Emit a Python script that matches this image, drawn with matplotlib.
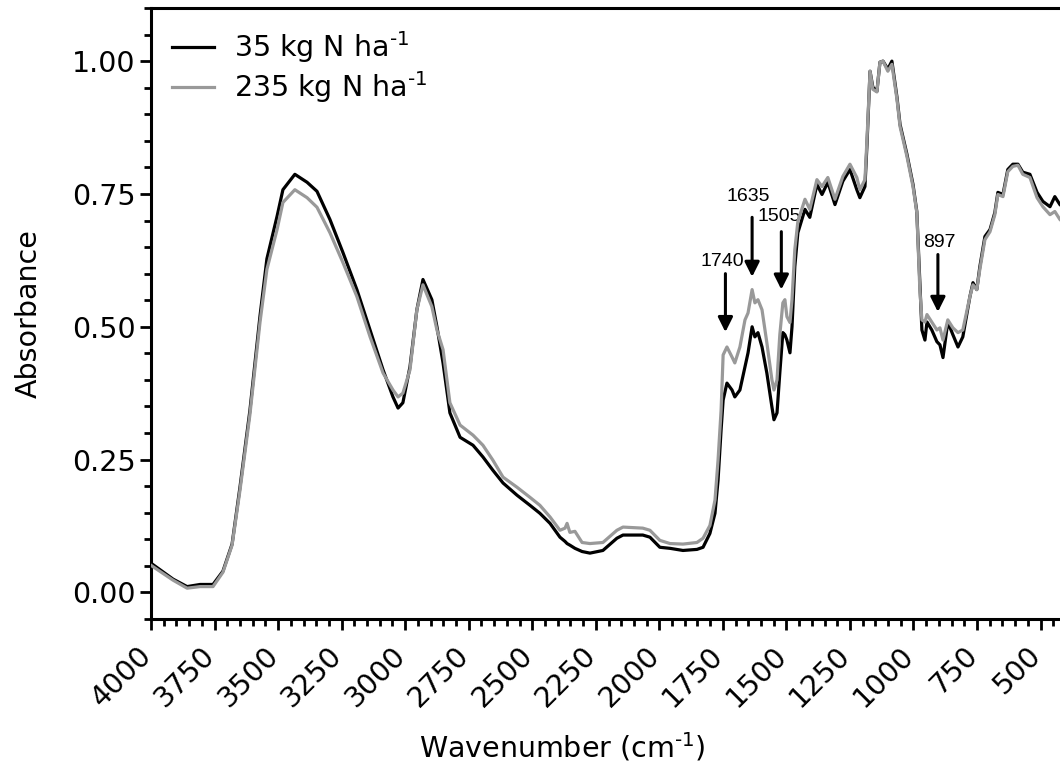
import numpy as np
import matplotlib
matplotlib.use('Agg')
import matplotlib.pyplot as plt
import matplotlib.transforms as mtransforms
from matplotlib.ticker import MultipleLocator, FormatStrFormatter

# Wavenumber grid (cm-1)
wavenumber = [4000, 3913, 3858, 3807, 3756, 3717, 3681, 3650, 3611, 3571, 3544, 3504,
              3481, 3434, 3386, 3347, 3296, 3245, 3190, 3138, 3087, 3048, 3028, 3009,
              2981, 2954, 2930, 2895, 2875, 2851, 2824, 2784, 2733, 2694, 2655, 2615,
              2560, 2509, 2470, 2430, 2391, 2371, 2363, 2352, 2332, 2304, 2273, 2222,
              2167, 2143, 2065, 2037, 1998, 1958, 1907, 1852, 1828, 1801, 1781, 1769,
              1757, 1749, 1734, 1714, 1703, 1683, 1663, 1651, 1635, 1624, 1612, 1596,
              1577, 1557, 1549, 1537, 1526, 1514, 1506, 1498, 1486, 1478, 1467, 1455,
              1427, 1408, 1380, 1360, 1337, 1309, 1278, 1250, 1223, 1211, 1191, 1183,
              1171, 1160, 1144, 1132, 1120, 1101, 1085, 1065, 1053, 1026, 1002, 987,
              975, 967, 955, 947, 928, 908, 896, 884, 865, 845, 825, 806, 778, 766,
              751, 739, 719, 699, 680, 668, 648, 629, 609, 589, 570, 542, 514, 491,
              463, 444, 424, 400]

# 35 kg N ha-1 (black)
abs_35 = [0.055, 0.025, 0.011, 0.015, 0.015, 0.040, 0.091, 0.198, 0.342, 0.521, 0.628, 0.708,
          0.758, 0.787, 0.772, 0.755, 0.702, 0.640, 0.570, 0.494, 0.419, 0.368, 0.347, 0.357,
          0.425, 0.532, 0.589, 0.551, 0.500, 0.432, 0.338, 0.292, 0.277, 0.255, 0.230, 0.206,
          0.183, 0.164, 0.149, 0.130, 0.104, 0.096, 0.092, 0.089, 0.083, 0.077, 0.074, 0.079,
          0.102, 0.108, 0.108, 0.104, 0.085, 0.083, 0.079, 0.081, 0.085, 0.111, 0.149, 0.211,
          0.306, 0.362, 0.394, 0.381, 0.368, 0.381, 0.425, 0.451, 0.500, 0.481, 0.489, 0.462,
          0.413, 0.349, 0.325, 0.338, 0.413, 0.489, 0.485, 0.475, 0.451, 0.500, 0.613, 0.677,
          0.721, 0.706, 0.768, 0.749, 0.772, 0.730, 0.774, 0.796, 0.758, 0.743, 0.764, 0.843,
          0.981, 0.951, 0.943, 0.998, 1.000, 0.985, 1.000, 0.932, 0.881, 0.825, 0.768, 0.717,
          0.583, 0.494, 0.475, 0.509, 0.494, 0.472, 0.466, 0.442, 0.509, 0.485, 0.462, 0.481,
          0.557, 0.583, 0.570, 0.613, 0.670, 0.683, 0.715, 0.753, 0.749, 0.796, 0.806, 0.806,
          0.791, 0.787, 0.753, 0.736, 0.726, 0.745, 0.730, 0.721]

# 235 kg N ha-1 (grey)
abs_235 = [0.051, 0.023, 0.008, 0.011, 0.011, 0.038, 0.089, 0.192, 0.334, 0.509, 0.608, 0.683,
           0.734, 0.758, 0.743, 0.725, 0.677, 0.621, 0.557, 0.481, 0.413, 0.381, 0.368, 0.375,
           0.419, 0.532, 0.579, 0.538, 0.494, 0.457, 0.357, 0.315, 0.296, 0.277, 0.249, 0.217,
           0.198, 0.179, 0.164, 0.142, 0.117, 0.121, 0.130, 0.113, 0.115, 0.094, 0.092, 0.094,
           0.117, 0.123, 0.121, 0.117, 0.098, 0.092, 0.091, 0.094, 0.102, 0.126, 0.174, 0.249,
           0.343, 0.447, 0.462, 0.443, 0.432, 0.462, 0.513, 0.526, 0.570, 0.545, 0.551, 0.532,
           0.470, 0.400, 0.381, 0.400, 0.485, 0.545, 0.551, 0.519, 0.508, 0.551, 0.645, 0.698,
           0.740, 0.721, 0.777, 0.764, 0.781, 0.740, 0.783, 0.806, 0.781, 0.758, 0.777, 0.853,
           0.981, 0.947, 0.942, 0.998, 1.000, 0.981, 0.994, 0.928, 0.877, 0.821, 0.764, 0.715,
           0.570, 0.513, 0.509, 0.523, 0.509, 0.494, 0.498, 0.475, 0.513, 0.498, 0.489, 0.494,
           0.557, 0.579, 0.570, 0.608, 0.664, 0.679, 0.711, 0.749, 0.745, 0.792, 0.802, 0.804,
           0.787, 0.781, 0.743, 0.726, 0.711, 0.717, 0.702, 0.692]

# Peak annotations: label, arrow x, arrow tip y, arrow tail y, text x, text y
peak_labels = ['1740', '1635', '1505', '897']
arrow_x = [1740, 1635, 1520, 904]
arrow_tip = [0.49, 0.594, 0.570, 0.528]
arrow_tail = [0.60, 0.706, 0.679, 0.636]
label_x = [1752, 1650, 1527, 900]
label_y = [0.622, 0.745, 0.708, 0.658]

fig = plt.figure(figsize=(10.6, 7.64), dpi=100)
# axes run past the right edge of the figure, the picture is cropped there
ax = fig.add_axes([151 / 1060, 145 / 764, 915 / 1060, 611 / 764])

ax.plot(wavenumber, abs_35, color='black', lw=2.3, label=r'35 kg N ha$^{\text{-1}}$', zorder=3)
ax.plot(wavenumber, abs_235, color='#999999', lw=2.3, label=r'235 kg N ha$^{\text{-1}}$', zorder=4)

for lab, xa, tip, tail, xt, yt in zip(peak_labels, arrow_x, arrow_tip, arrow_tail, label_x, label_y):
    ax.annotate('', xy=(xa, tip), xytext=(xa, tail),
                arrowprops=dict(arrowstyle='-|>', color='black', lw=2.2,
                                mutation_scale=22, shrinkA=0, shrinkB=0))
    ax.text(xt, yt, lab, ha='center', va='center', fontsize=14,
            family='Liberation Sans', color='black')

ax.set_xlim(4000, 400)
ax.set_ylim(-0.05, 1.1)

ax.xaxis.set_major_locator(MultipleLocator(250))
ax.xaxis.set_minor_locator(MultipleLocator(50))
ax.yaxis.set_major_locator(MultipleLocator(0.25))
ax.yaxis.set_minor_locator(MultipleLocator(0.05))
ax.yaxis.set_major_formatter(FormatStrFormatter('%.2f'))

for s in ['left', 'bottom', 'top']:
    ax.spines[s].set_linewidth(2.2)
ax.spines['right'].set_visible(False)

ax.tick_params(which='major', length=8, width=2, labelsize=20.5, pad=3)
ax.tick_params(which='minor', length=5, width=2)
ax.tick_params(axis='x', which='both', top=False)

# rotated x labels, nudged down so their end sits just under the tick
offset = mtransforms.ScaledTranslation(-4 / 100, -17 / 100, fig.dpi_scale_trans)
for lab in ax.get_xticklabels():
    lab.set_rotation(45)
    lab.set_ha('right')
    lab.set_va('center')
    lab.set_rotation_mode('anchor')
    lab.set_transform(lab.get_transform() + offset)

ax.set_xlabel(r'Wavenumber (cm$^{\text{-1}}$)', fontsize=20.5)
ax.xaxis.set_label_coords(0.449, -0.183)
ax.set_ylabel('Absorbance', fontsize=20.5)
ax.yaxis.set_label_coords(-0.118, 0.5)

ax.legend(loc='upper left', bbox_to_anchor=(0.0, 1.0), frameon=False, fontsize=20.5,
          handlelength=1.45, handletextpad=0.7, labelspacing=0.15, borderaxespad=0.35)

fig.savefig('out.png', dpi=100)
